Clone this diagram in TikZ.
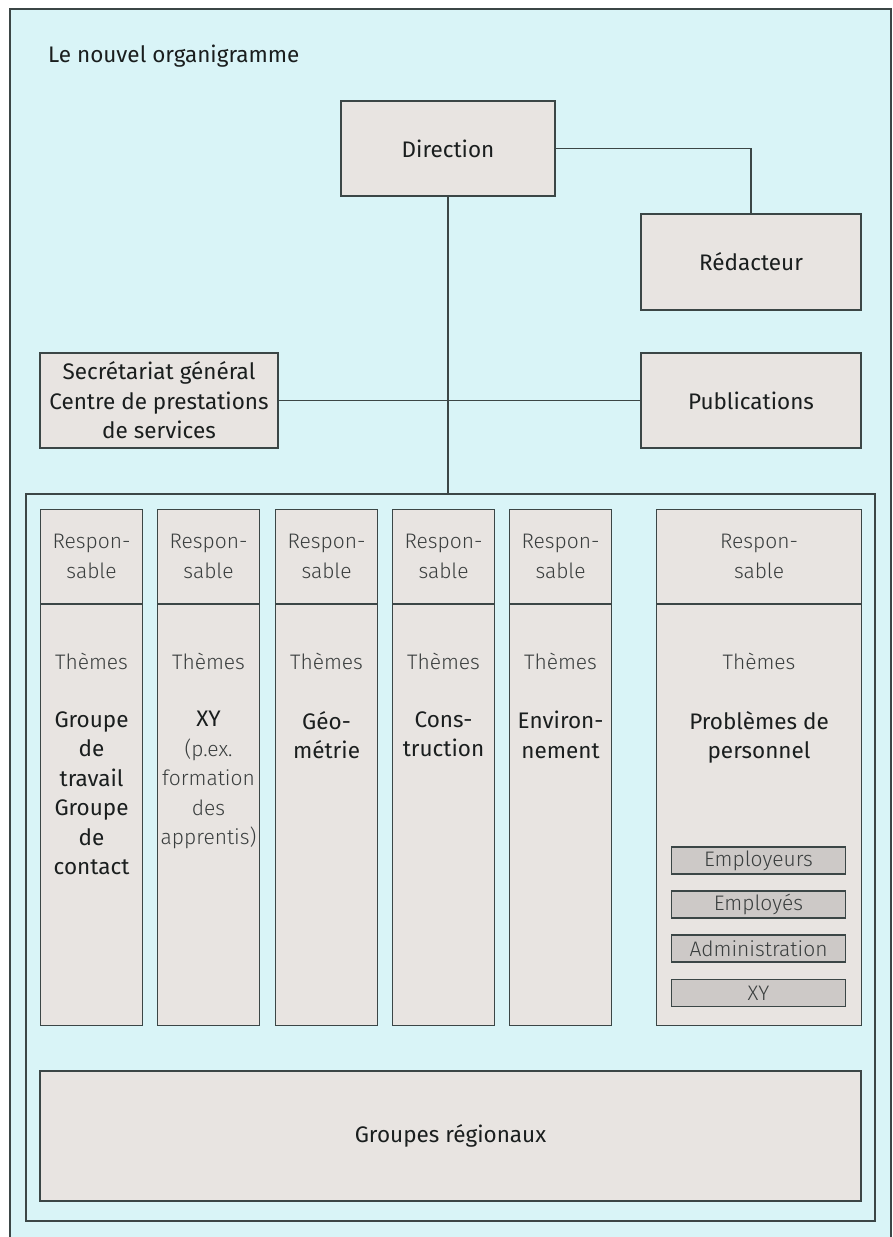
\documentclass[tikz,border=0pt]{standalone}
\usepackage{fontspec}
\setmainfont{Fira Sans}
\newfontfamily\lightfont{Fira Sans Light}
\usetikzlibrary{positioning}
\definecolor{MyBack}{HTML}{D9F4F7}
\definecolor{MyBox}{HTML}{E8E4E1}
\definecolor{MySub}{HTML}{CDC9C7}
\definecolor{MyLine}{HTML}{3B4646}
\definecolor{MyText}{HTML}{1A1E1E}
\definecolor{MyLight}{HTML}{3A3E3E}
\newcommand{\leger}[1]{{\fontsize{21}{29.5}\selectfont\lightfont\textcolor{MyLight}{#1}}}
\newcommand{\orgfont}{\fontsize{22.5}{29.5}\selectfont}
\newcommand{\legerfont}{\fontsize{21}{29.5}\selectfont\lightfont}
\tikzset{
    unit/.style={
      rectangle,
      fill=MyBox,
      draw=MyLine,
      line width=1.1pt,
      inner sep=2pt,
      align=center,
      text=MyText,
      font=\orgfont
    },
    head/.style={unit, minimum height=94pt, text=MyLight, font=\legerfont},
    column/.style={unit, minimum height=421pt, anchor=north},
    theme/.style={inner sep=0pt, text=MyLight, font=\legerfont},
    subject/.style={inner sep=0pt, anchor=north, align=center, text=MyText, font=\orgfont},
    subbox/.style={unit, fill=MySub, minimum width=174pt, minimum height=27pt,
      inner sep=0pt, text=MyLight, font=\legerfont},
    link/.style={draw=MyLine, line width=1.1pt}
}

\begin{document}
\begin{tikzpicture}[x=1pt,y=-1pt]

    \fill[white] (0,0) rectangle (893,1237);
    \useasboundingbox (0,0) rectangle (893,1237);
    \draw[fill=MyBack, draw=MyLine, line width=1.1pt] (10,9) rectangle (891,1262);

    \node[anchor=base west, inner sep=0pt, text=MyText, font=\orgfont] (title) at (48,62) {Le nouvel organigramme};

    % upper part
    \node[unit, minimum width=214pt, minimum height=95pt] (dir) at (448,148.5) {Direction};
    \node[unit, minimum width=220pt, minimum height=96pt] (red) at (751,262) {Rédacteur};
    \node[unit, minimum width=238pt, minimum height=95pt] (sec) at (159,400.5) {Secrétariat général\\Centre de prestations\\de services};
    \node[unit, minimum width=220pt, minimum height=95pt] (pub) at (751,400.5) {Publications};

    \node[draw=MyLine, line width=1.1pt, minimum width=849pt, minimum height=727pt, inner sep=0pt] (sections) at (450.5,857.5) {};

    \path[link] (dir.east) -| (red.north);
    \path[link] (dir.south) -- (dir.south |- sections.north);
    \path[link] (sec.east) -- (pub.west);

    % columns
    \foreach \n/\x/\w in {1/40/102, 2/157/102, 3/275/102, 4/392/102, 5/509/102, 6/656/205} {
      \node[head, minimum width=\w pt, anchor=north west] (resp\n) at (\x,509) {Respon-\\sable};
      \node[column, minimum width=\w pt] (col\n) at (resp\n.south) {};
      \node[theme] (theme\n) at ([yshift=-57pt]col\n.north) {Thèmes};
    }

    \node[subject] (sujet1) at ([yshift=-107pt]col1.north) {Groupe\\de\\travail\\Groupe\\de\\contact};
    \node[subject] (sujet2) at ([yshift=-107pt]col2.north) {XY\\\leger{(p.ex.}\\\leger{formation}\\\leger{des}\\\leger{apprentis)}};
    \node[subject] (sujet3) at ([yshift=-107pt]col3.north) {Géo-\\métrie};
    \node[subject] (sujet4) at ([yshift=-107pt]col4.north) {Cons-\\truction};
    \node[subject] (sujet5) at ([yshift=-107pt]col5.north) {Environ-\\nement};
    \node[subject] (sujet6) at ([yshift=-107pt]col6.north) {Problèmes de\\personnel};

    \foreach \i/\y/\t in {1/860.5/Employeurs, 2/904.5/Employés, 3/948.5/Administration, 4/993/XY} {
      \node[subbox] (sub\i) at (758.5,\y) {\t};
    }

    \node[unit, minimum width=821pt, minimum height=130pt] (regio) at (450.5,1136) {Groupes régionaux};

\end{tikzpicture}
\end{document}
